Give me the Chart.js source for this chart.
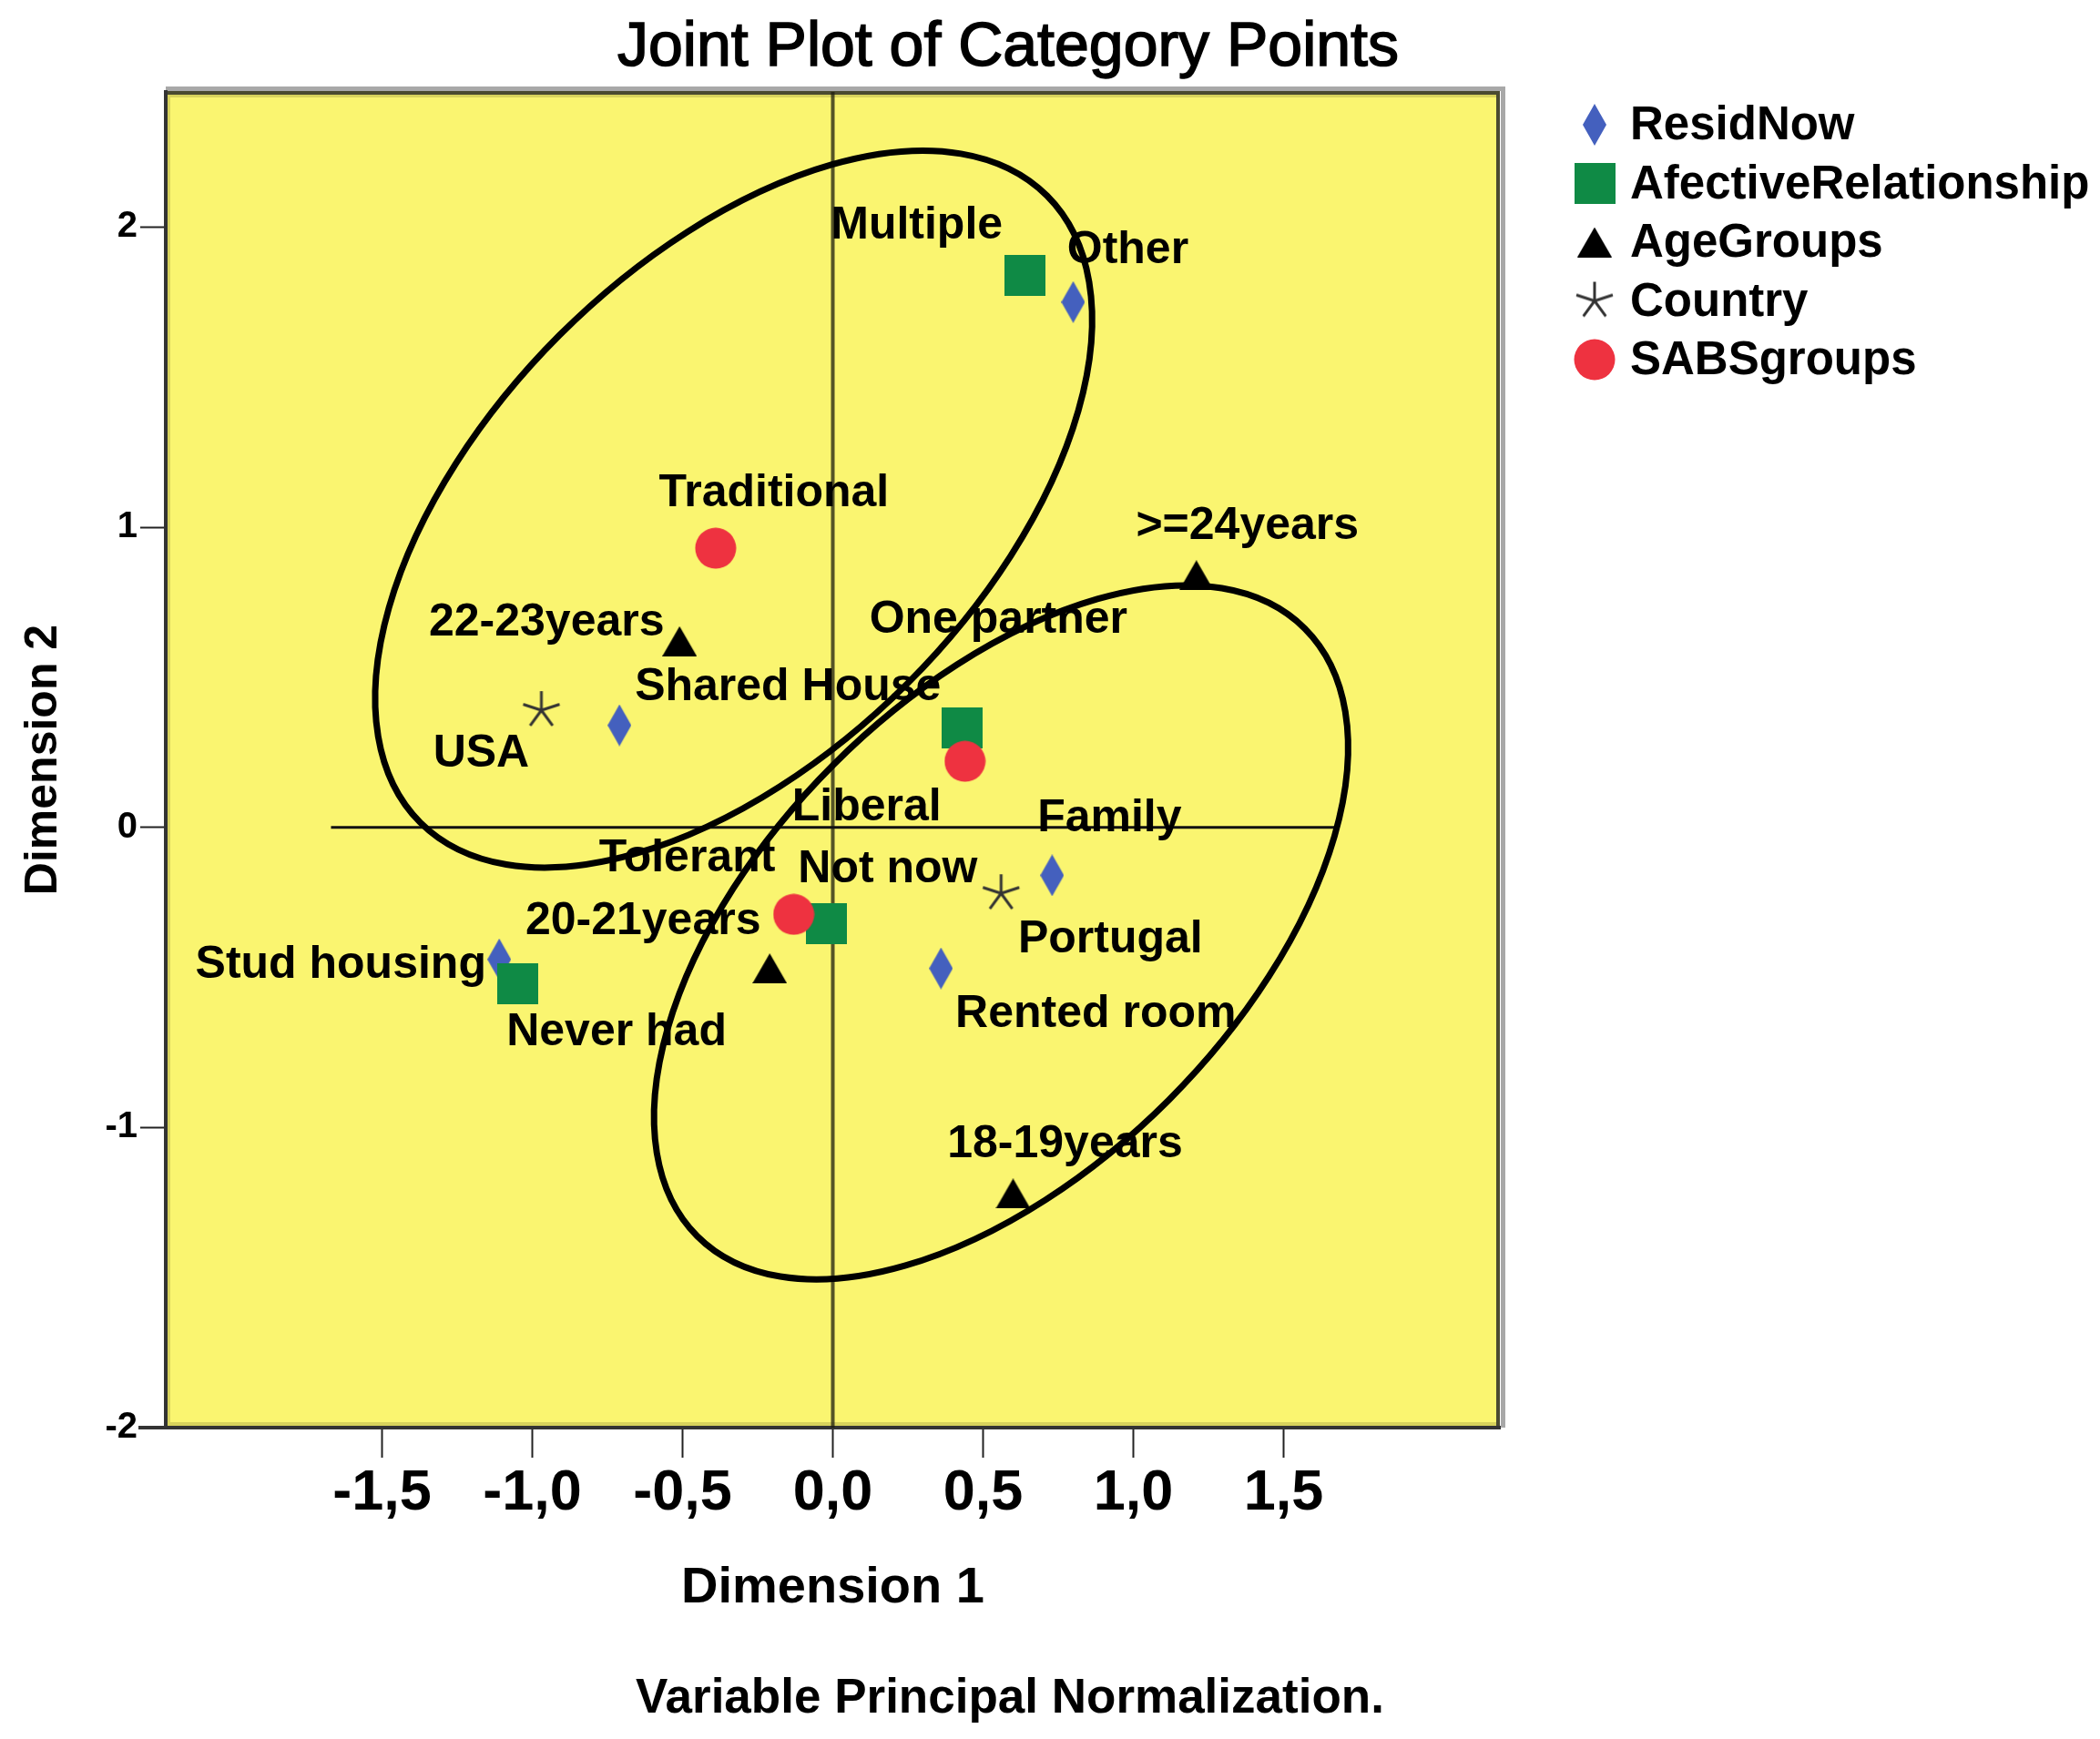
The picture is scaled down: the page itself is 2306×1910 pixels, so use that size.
<!DOCTYPE html>
<html><head><meta charset="utf-8">
<script src="https://cdn.jsdelivr.net/npm/chart.js@4.4.1/dist/chart.umd.min.js"></script>
<style>html,body{margin:0;padding:0;background:#fff;}#wrap{width:2306px;height:1910px;}</style>
</head><body><div id="wrap"><canvas id="c" width="2306" height="1910"></canvas></div>
<script>
const FONT = "'Liberation Sans', Arial, Helvetica, sans-serif";
const chartTitle = 'Joint Plot of Category Points';
const footnote = 'Variable Principal Normalization.';
const xAxisTitle = 'Dimension 1';
const yAxisTitle = 'Dimension 2';
const xTicks = [-1.5, -1, -0.5, 0, 0.5, 1, 1.5];
const yTicks = [-2, -1, 0, 1, 2];
const xRange = [-2.22, 2.22];
const yRange = [-2, 2.45];
const seriesNames = ['ResidNow', 'AfectiveRelationship', 'AgeGroups', 'Country', 'SABSgroups'];

const residLabels = ['Other', 'Shared House', 'Family', 'Rented room', 'Stud housing'];
const residX = [0.80, -0.71, 0.73, 0.36, -1.11];
const residY = [1.75, 0.34, -0.16, -0.47, -0.44];

const afectLabels = ['Multiple', 'One partner', 'Not now', 'Never had'];
const afectX = [0.64, 0.43, -0.02, -1.05];
const afectY = [1.84, 0.33, -0.32, -0.52];

const ageLabels = ['>=24years', '22-23years', '20-21years', '18-19years'];
const ageX = [1.21, -0.51, -0.21, 0.60];
const ageY = [0.84, 0.62, -0.47, -1.22];

const countryLabels = ['USA', 'Portugal'];
const countryX = [-0.97, 0.56];
const countryY = [0.39, -0.22];

const sabsLabels = ['Traditional', 'Liberal', 'Tolerant'];
const sabsX = [-0.39, 0.44, -0.13];
const sabsY = [0.93, 0.22, -0.29];

// reference lines through the origin
const hLineX = [-1.67, 1.67];
const vLineY = [-2, 2.45];

// hand-drawn group ellipses (data units): centre, semi-axes, tilt in degrees
const ellipseCX = [-0.33, 0.56];
const ellipseCY = [1.06, -0.35];
const ellipseA = [1.475, 1.43];
const ellipseB = [0.82, 0.79];
const ellipseTilt = [45, 45];

// label placement (pixel offsets of text centre from its point)
const residOff = [[60,-57],[185,-41],[63,-62],[170,51],[-174,6]];
const afectOff = [[-119,-54],[40,-119],[67,-59],[109,54]];
const ageOff = [[56,-54],[-146,-20],[-139,-51],[57,-54]];
const countryOff = [[-66,48],[120,51]];
const sabsOff = [[64,-60],[-108,51],[-117,-61]];

function mk(w, h, fn) { const c = document.createElement('canvas'); c.width = w; c.height = h; fn(c.getContext('2d'), w, h); return c; }
const diamondImg = mk(26, 46, (g, w, h) => { g.fillStyle = '#4460BE'; g.beginPath(); g.moveTo(w/2, 0); g.lineTo(w, h/2); g.lineTo(w/2, h); g.lineTo(0, h/2); g.closePath(); g.fill(); });
const squareImg = mk(45, 45, (g, w, h) => { g.fillStyle = '#0F8A45'; g.fillRect(0, 0, w, h); });
const triImg = mk(38, 33, (g, w, h) => { g.fillStyle = '#000'; g.beginPath(); g.moveTo(w/2, 0); g.lineTo(w, h); g.lineTo(0, h); g.closePath(); g.fill(); });
const starImg = mk(46, 46, (g, w, h) => { g.strokeStyle = '#333'; g.lineWidth = 3; g.beginPath(); for (let k = 0; k < 5; k++) { const a = -Math.PI/2 + k*2*Math.PI/5; g.moveTo(w/2, h/2); g.lineTo(w/2 + Math.cos(a)*21, h/2 + Math.sin(a)*21); } g.stroke(); });
const circleImg = mk(46, 46, (g, w, h) => { g.fillStyle = '#EE3240'; g.beginPath(); g.arc(w/2, h/2, 22.5, 0, Math.PI*2); g.fill(); });

const pts = (xs, ys) => xs.map((x, i) => ({x: x, y: ys[i]}));
const groups = [
  {name: seriesNames[0], labels: residLabels, data: pts(residX, residY), img: diamondImg, off: residOff},
  {name: seriesNames[1], labels: afectLabels, data: pts(afectX, afectY), img: squareImg, off: afectOff},
  {name: seriesNames[2], labels: ageLabels, data: pts(ageX, ageY), img: triImg, off: ageOff},
  {name: seriesNames[3], labels: countryLabels, data: pts(countryX, countryY), img: starImg, off: countryOff},
  {name: seriesNames[4], labels: sabsLabels, data: pts(sabsX, sabsY), img: circleImg, off: sabsOff}
];

const datasets = [
  {type: 'line', label: 'h0', data: hLineX.map(x => ({x: x, y: 0})), borderColor: '#111', borderWidth: 3, pointRadius: 0, order: 10},
  {type: 'line', label: 'v0', data: vLineY.map(y => ({x: 0, y: y})), borderColor: 'rgba(30,30,15,0.75)', borderWidth: 4, pointRadius: 0, order: 10}
];
groups.forEach((g, i) => datasets.push({type: 'scatter', label: g.name, data: g.data, pointStyle: g.img, pointRadius: 20, order: 5 - i}));

const decor = {
  id: 'decor',
  beforeDraw(chart) {
    const {ctx, chartArea: a} = chart;
    ctx.save();
    ctx.fillStyle = '#FAF570';
    ctx.fillRect(a.left, a.top, a.right - a.left, a.bottom - a.top);
    ctx.fillStyle = '#D8D35C';
    ctx.fillRect(a.left, a.top, 5, a.bottom - a.top);
    ctx.fillRect(a.left, a.bottom - 6, a.right - a.left, 6);
    ctx.fillRect(a.left, a.top, a.right - a.left, 6);
    ctx.fillStyle = '#A8A8A8';
    ctx.fillRect(a.left, a.top - 6, a.right - a.left + 6, 5);
    ctx.fillRect(a.right + 1, a.top - 4, 5, a.bottom - a.top + 4);
    ctx.fillStyle = '#4a4a30';
    ctx.fillRect(a.left, a.top - 1, a.right - a.left, 4);
    ctx.fillRect(a.right - 4, a.top, 4, a.bottom - a.top);
    ctx.restore();
  },
  afterDatasetsDraw(chart) {
    const {ctx, chartArea: a} = chart;
    const xs = chart.scales.x, ys = chart.scales.y;
    ctx.save();
    ctx.fillStyle = '#333';
    ctx.fillRect(152, a.bottom - 2, a.left - 152, 4);
    ctx.font = 'bold 50px ' + FONT;
    ctx.fillStyle = '#000';
    ctx.textAlign = 'center';
    ctx.textBaseline = 'middle';
    groups.forEach(g => {
      g.data.forEach((p, j) => {
        const px = xs.getPixelForValue(p.x), py = ys.getPixelForValue(p.y);
        ctx.fillText(g.labels[j], px + g.off[j][0], py + g.off[j][1]);
      });
    });
    ctx.strokeStyle = '#000';
    ctx.lineWidth = 7;
    const kx = xs.getPixelForValue(1) - xs.getPixelForValue(0);
    const ky = ys.getPixelForValue(0) - ys.getPixelForValue(1);
    ellipseCX.forEach((cx, i) => {
      ctx.beginPath();
      ctx.ellipse(xs.getPixelForValue(cx), ys.getPixelForValue(ellipseCY[i]), ellipseA[i] * kx, ellipseB[i] * ky, -ellipseTilt[i] * Math.PI / 180, 0, Math.PI * 2);
      ctx.stroke();
    });
    ctx.restore();
  },
  afterDraw(chart) {
    const {ctx} = chart;
    ctx.save();
    ctx.fillStyle = '#000';
    ctx.strokeStyle = '#000';
    ctx.textAlign = 'center';
    ctx.textBaseline = 'middle';
    ctx.font = '68px ' + FONT;
    ctx.lineWidth = 1.6;
    ctx.fillText(chartTitle, 1107, 53);
    ctx.strokeText(chartTitle, 1107, 53);
    ctx.font = 'bold 53px ' + FONT;
    ctx.fillText(footnote, 1109, 1866);
    ctx.textAlign = 'left';
    ctx.font = 'bold 51px ' + FONT;
    groups.forEach((g, i) => {
      const y = 137 + i * 64.5;
      ctx.drawImage(g.img, 1751 - g.img.width / 2, y - g.img.height / 2);
      ctx.fillText(g.name, 1790, y + 2);
    });
    ctx.restore();
  }
};

new Chart(document.getElementById('c'), {
  data: {datasets: datasets},
  options: {
    responsive: false, animation: false, devicePixelRatio: 1,
    layout: {padding: {left: 0, top: 101, right: 659, bottom: 0}},
    plugins: {legend: {display: false}, title: {display: false}, tooltip: {enabled: false}},
    scales: {
      x: {
        type: 'linear', min: xRange[0], max: xRange[1],
        afterBuildTicks: s => { s.ticks = xTicks.map(v => ({value: v})); },
        afterFit: s => { s.height = 342; },
        ticks: {callback: v => Number(v).toFixed(1).replace('.', ','), font: {family: FONT, size: 63, weight: 'bold'}, color: '#000', padding: 2, maxRotation: 0, autoSkip: false},
        grid: {display: true, drawOnChartArea: false, drawTicks: true, tickLength: 33, tickWidth: 2, tickColor: '#222'},
        border: {display: true, color: '#333', width: 4},
        title: {display: true, text: xAxisTitle, font: {family: FONT, size: 56, weight: 'bold'}, color: '#000', padding: {top: 0, bottom: 132}}
      },
      y: {
        type: 'linear', min: yRange[0], max: yRange[1],
        afterBuildTicks: s => { s.ticks = yTicks.map(v => ({value: v})); },
        afterFit: s => { s.width = 182; },
        ticks: {callback: v => String(v), font: {family: FONT, size: 40, weight: 'bold'}, color: '#000', padding: 3, autoSkip: false},
        grid: {display: true, drawOnChartArea: false, drawTicks: true, tickLength: 28, tickWidth: 2, tickColor: '#222'},
        border: {display: true, color: '#333', width: 4},
        title: {display: true, text: yAxisTitle, font: {family: FONT, size: 50, weight: 'bold'}, color: '#000', padding: {top: 18, bottom: 0}}
      }
    }
  },
  plugins: [decor]
});
</script></body></html>
